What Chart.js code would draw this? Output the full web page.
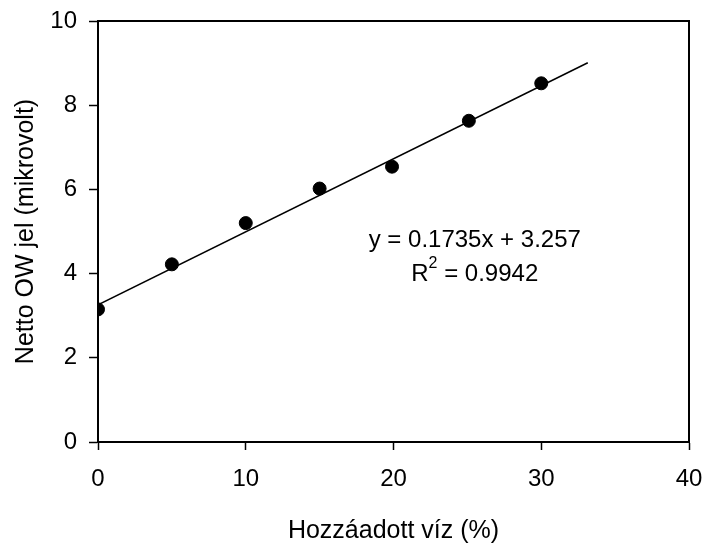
<!DOCTYPE html>
<html>
<head>
<meta charset="utf-8">
<script src="https://cdn.jsdelivr.net/npm/chart.js@4/dist/chart.umd.min.js"></script>
<style>
  html, body { margin: 0; padding: 0; background: #fff; }
  #wrap { width: 706px; height: 548px; }
</style>
</head>
<body>
<div id="wrap"><canvas id="chart" width="706" height="548"></canvas></div>
<script>
// measured points
const addedWater = [0, 5, 10, 15, 19.9, 25.1, 30];
const owSignal = [3.15, 4.22, 5.2, 6.02, 6.54, 7.63, 8.52];

// trend line from the printed equation
const slope = 0.1735;
const intercept = 3.257;
const fitRange = [0, 33.15];
const equationLines = ['y = 0.1735x + 3.257', 'R', ' = 0.9942'];

const xTicks = [0, 10, 20, 30, 40];
const yTicks = [0, 2, 4, 6, 8, 10];

const FONT = 'Liberation Sans, Arial, sans-serif';

const points = addedWater.map((x, i) => ({ x: x, y: owSignal[i] }));
const fitLine = fitRange.map(x => ({ x: x, y: intercept + slope * x }));

// box round the plot + equation text
const frameAndLabel = {
  id: 'frameAndLabel',
  afterDraw(chart) {
    const { ctx, chartArea: a, scales } = chart;
    ctx.save();
    ctx.strokeStyle = '#000';
    ctx.lineWidth = 2;
    ctx.strokeRect(a.left, a.top, a.right - a.left, a.bottom - a.top);

    ctx.fillStyle = '#000';
    ctx.font = '24px ' + FONT;
    ctx.textBaseline = 'middle';
    ctx.textAlign = 'center';
    const cx = scales.x.getPixelForValue(25.5);
    ctx.fillText(equationLines[0], cx, scales.y.getPixelForValue(4.8));

    // R² line with raised 2
    const yR = scales.y.getPixelForValue(3.97);
    const wR = ctx.measureText(equationLines[1]).width;
    ctx.font = '16px ' + FONT;
    const w2 = ctx.measureText('2').width;
    ctx.font = '24px ' + FONT;
    const wRest = ctx.measureText(equationLines[2]).width;
    let sx = cx - (wR + w2 + wRest) / 2;
    ctx.textAlign = 'left';
    ctx.fillText(equationLines[1], sx, yR);
    ctx.font = '16px ' + FONT;
    ctx.fillText('2', sx + wR, yR - 11);
    ctx.font = '24px ' + FONT;
    ctx.fillText(equationLines[2], sx + wR + w2, yR);
    ctx.restore();
  }
};

new Chart(document.getElementById('chart'), {
  type: 'scatter',
  data: {
    datasets: [
      {
        label: 'mért',
        data: points,
        backgroundColor: '#000',
        borderColor: '#000',
        pointRadius: 6.5,
        pointHoverRadius: 6.5
      },
      {
        label: 'illesztés',
        type: 'line',
        data: fitLine,
        borderColor: '#000',
        borderWidth: 1.5,
        pointRadius: 0,
        fill: false
      }
    ]
  },
  options: {
    responsive: false,
    animation: false,
    layout: { padding: { top: 21, right: 17, left: 0, bottom: 0 } },
    plugins: {
      legend: { display: false },
      tooltip: { enabled: false }
    },
    scales: {
      x: {
        type: 'linear',
        min: 0,
        max: 40,
        afterBuildTicks(scale) { scale.ticks = xTicks.map(v => ({ value: v })); },
        afterFit(scale) {
          scale.height = 106;
          scale.paddingLeft = 0;
          scale.paddingRight = 0;
        },
        grid: { drawOnChartArea: false, tickLength: 8, tickColor: '#000', tickWidth: 1.5 },
        border: { color: '#000', width: 2 },
        ticks: { color: '#000', padding: 15, font: { family: FONT, size: 24 } },
        title: {
          display: true,
          text: 'Hozzáadott víz (%)',
          color: '#000',
          font: { family: FONT, size: 25 },
          padding: { top: 14, bottom: 2 }
        }
      },
      y: {
        type: 'linear',
        min: 0,
        max: 10,
        afterBuildTicks(scale) { scale.ticks = yTicks.map(v => ({ value: v })); },
        afterFit(scale) {
          scale.width = 98;
          scale.paddingTop = 0;
          scale.paddingBottom = 0;
        },
        grid: { drawOnChartArea: false, tickLength: 9, tickColor: '#000', tickWidth: 1.5 },
        border: { color: '#000', width: 2 },
        ticks: { color: '#000', padding: 12, font: { family: FONT, size: 24 } },
        title: {
          display: true,
          text: 'Netto OW jel (mikrovolt)',
          color: '#000',
          font: { family: FONT, size: 25 },
          padding: { top: 11, bottom: 4 }
        }
      }
    }
  },
  plugins: [frameAndLabel]
});
</script>
</body>
</html>
